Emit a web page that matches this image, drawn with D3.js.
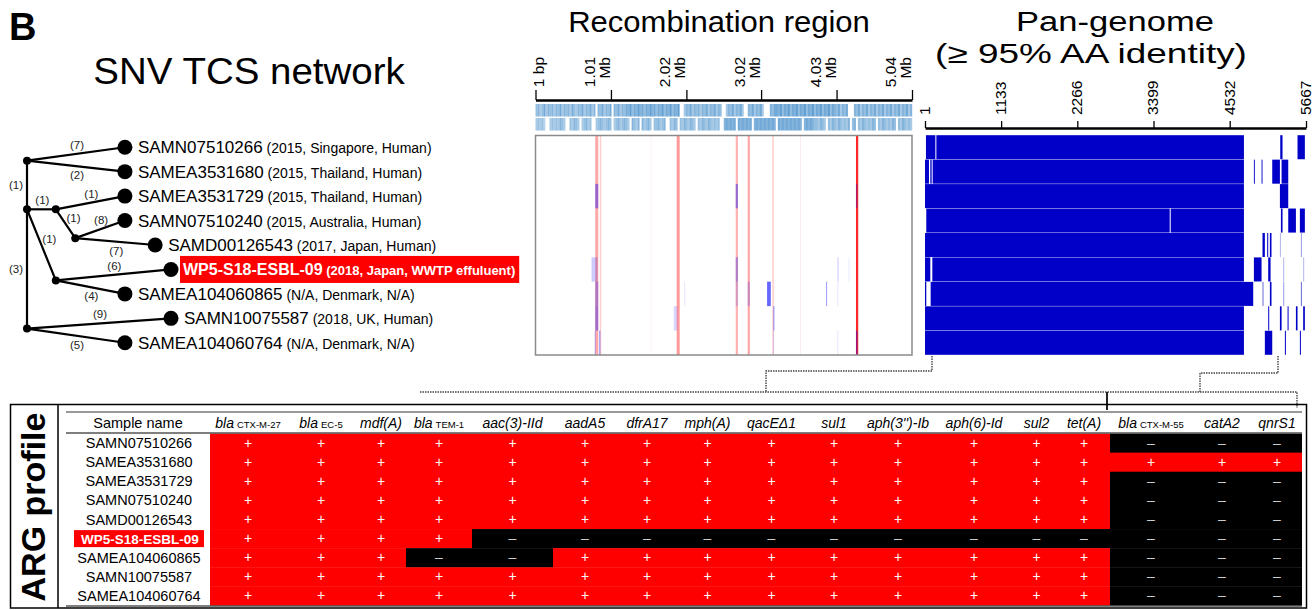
<!DOCTYPE html>
<html>
<head>
<meta charset="utf-8">
<script src="https://cdn.jsdelivr.net/npm/d3@7"></script>
<style>
body { margin: 0; background: #fff; }
text { font-family: "Liberation Sans", Arial, sans-serif; }
</style>
</head>
<body>
<svg id="fig" width="1314" height="610"></svg>
<script>
// ---- data ----
var samples = ["SAMN07510266", "SAMEA3531680", "SAMEA3531729", "SAMN07510240", "SAMD00126543",
               "WP5-S18-ESBL-09", "SAMEA104060865", "SAMN10075587", "SAMEA104060764"];
var sampleMeta = ["(2015, Singapore, Human)", "(2015, Thailand, Human)", "(2015, Thailand, Human)",
                  "(2015, Australia, Human)", "(2017, Japan, Human)", "(2018, Japan, WWTP effuluent)",
                  "(N/A, Denmark, N/A)", "(2018, UK, Human)", "(N/A, Denmark, N/A)"];
var highlight = "WP5-S18-ESBL-09";

// TCS network, x in tree units (0-10), y in row units
var treeNodes = [
  {id: "n1", x: 0, y: 0.55}, {id: "n2", x: 0, y: 2.54}, {id: "n3", x: 0, y: 7.42},
  {id: "nB", x: 2.0, y: 2.54}, {id: "nC", x: 3.35, y: 3.72}, {id: "nD", x: 2.0, y: 5.45},
  {id: "t0", x: 6.8, y: 0, tip: 0}, {id: "t1", x: 6.8, y: 1, tip: 1}, {id: "t2", x: 6.8, y: 2, tip: 2},
  {id: "t3", x: 6.8, y: 3, tip: 3}, {id: "t4", x: 8.9, y: 4, tip: 4}, {id: "t5", x: 10, y: 5, tip: 5},
  {id: "t6", x: 6.8, y: 6, tip: 6}, {id: "t7", x: 10, y: 7, tip: 7}, {id: "t8", x: 6.8, y: 8, tip: 8}
];
var treeEdges = [
  ["n1", "n2", "(1)", "left"], ["n2", "n3", "(3)", "left"],
  ["n1", "t0", "(7)", "above"], ["n1", "t1", "(2)", "below"],
  ["n2", "nB", "(1)", "above"], ["nB", "t2", "(1)", "above"], ["nB", "nC", "(1)", "right"],
  ["nC", "t3", "(8)", "above"], ["nC", "t4", "(7)", "below"],
  ["n2", "nD", "(1)", "right"], ["nD", "t5", "(6)", "above"], ["nD", "t6", "(4)", "below"],
  ["n3", "t7", "(9)", "above"], ["n3", "t8", "(5)", "below"]
];

// recombination region (Mb)
var recTicks = [0, 1.01, 2.02, 3.02, 4.03, 5.04];
var recTickLabels = [["1 bp"], ["1.01", "Mb"], ["2.02", "Mb"], ["3.02", "Mb"], ["4.03", "Mb"], ["5.04", "Mb"]];
// SNV density strips, one digit per bin along the genome (0 = none, 9 = dense)
var densityTop = "5645746564" + "6574656475" + "4657465746" + "0657465706" + "5746576857" +
                 "6867576867" + "5768576857" + "6800465746" + "5646574657" + "4650046574" +
                 "6574006574" + "6574000657" + "7685768576" + "8576857685" + "7685768576" +
                 "5746570006" + "5746574657" + "4657465746" + "57465746";
var densityBot = "4545300454" + "5465400546" + "5404564500" + "4565456504" + "5645654065" +
                 "4606456405" + "5645600546" + "5054654654" + "0546546545" + "4500676767" +
                 "0767676706" + "7676767676" + "0767676767" + "6760676765" + "5465405465" +
                 "4654546056" + "0546545465" + "0546545465" + "05465454";
// recombination shared by all rows: [start, end, strength]
var recRed = [[0.80, 0.84, 0.35], [0.86, 0.88, 0.2], [1.54, 1.55, 0.05], [1.89, 1.93, 0.4],
              [2.68, 2.71, 0.3], [2.84, 2.87, 0.35], [3.17, 3.19, 0.2], [3.54, 3.55, 0.08], [4.29, 4.32, 0.85]];
// per-row recombination: [row, start, end, strength]
var recBlue = [
  [2, 0.80, 0.84, 0.4], [2, 2.68, 2.71, 0.4], [2, 4.29, 4.31, 0.3],
  [5, 0.75, 0.83, 0.2], [5, 2.68, 2.71, 0.3], [5, 4.04, 4.06, 0.15], [5, 4.19, 4.20, 0.08],
  [6, 0.80, 0.84, 0.3], [6, 1.99, 2.00, 0.1], [6, 2.68, 2.71, 0.15], [6, 2.84, 2.87, 0.2],
  [6, 3.10, 3.15, 0.6], [6, 3.89, 3.90, 0.4], [6, 4.04, 4.05, 0.1],
  [7, 0.80, 0.84, 0.35], [7, 1.85, 1.90, 0.15], [7, 3.18, 3.20, 0.3],
  [8, 0.79, 0.81, 0.2], [8, 0.85, 0.87, 0.3], [8, 3.18, 3.19, 0.15], [8, 4.04, 4.05, 0.1], [8, 4.29, 4.31, 0.4]
];

// pan-genome gene presence: [row, first gene, last gene, strength]
var panTicks = [1, 1133, 2266, 3399, 4532, 5667];
var panBlocks = [
  [0, 15, 155, 1], [0, 170, 4744, 1], [0, 5284, 5318, 1], [0, 5541, 5650, 1],
  [1, 1, 60, 1], [1, 80, 100, 1], [1, 115, 4744, 1], [1, 4892, 4902, 0.9], [1, 5006, 5016, 0.9],
  [1, 5165, 5279, 1], [1, 5304, 5403, 1],
  [2, 1, 4744, 1], [2, 5279, 5403, 1],
  [3, 20, 3640, 1], [3, 3655, 4744, 1], [3, 5294, 5318, 1], [3, 5403, 5517, 1], [3, 5576, 5650, 1],
  [4, 1, 4744, 1], [4, 5020, 5055, 1], [4, 5090, 5105, 1], [4, 5130, 5154, 1],
  [4, 5279, 5284, 0.3], [4, 5591, 5596, 0.4],
  [5, 1, 80, 1], [5, 110, 4744, 1], [5, 4892, 5006, 1], [5, 5105, 5140, 1],
  [5, 5328, 5333, 0.3], [5, 5625, 5630, 0.3],
  [6, 1, 20, 1], [6, 85, 4882, 1], [6, 5020, 5025, 0.6], [6, 5130, 5154, 1],
  [6, 5328, 5333, 0.4], [6, 5591, 5596, 0.6],
  [7, 1, 4744, 1], [7, 5105, 5110, 1], [7, 5279, 5304, 1], [7, 5393, 5403, 1], [7, 5517, 5541, 1], [7, 5625, 5650, 1],
  [8, 1, 4744, 1], [8, 5055, 5165, 1], [8, 5353, 5363, 1], [8, 5576, 5586, 1]
];

// ARG profile
var genes = ["bla|CTX-M-27", "bla|EC-5", "mdf(A)", "bla|TEM-1", "aac(3)-IId", "aadA5", "dfrA17", "mph(A)",
             "qacEΔ1", "sul1", "aph(3'')-Ib", "aph(6)-Id", "sul2", "tet(A)", "bla|CTX-M-55", "catA2", "qnrS1"];
var argProfile = [
  "11111111111111000",
  "11111111111111111",
  "11111111111111000",
  "11111111111111000",
  "11111111111111000",
  "11110000000000000",
  "11100111111111000",
  "11111111111111000",
  "11111111111111000"
];

// ---- layout ----
var colEdges = [66, 210, 286, 356, 406, 472, 553, 617, 677, 738, 805, 863, 933, 1015, 1058, 1110, 1192, 1252, 1302];

var svg = d3.select("#fig");

var rowY = d3.scaleLinear().domain([-0.5, samples.length - 0.5]).range([135, 355]);
var rowBand = d3.scaleBand().domain(d3.range(samples.length)).range([135, 355]);
var treeX = d3.scaleLinear().domain([0, 10]).range([27, 171]);

// text squeezed/stretched horizontally (the figure's titles are wider than plain Arial)
function wideText(parent, x, y, k, size, txt, anchor) {
  return parent.append("g").attr("transform", "translate(" + x + "," + y + ") scale(" + k + ",1)")
    .append("text").attr("font-size", size).attr("text-anchor", anchor || "middle").text(txt);
}

// ---- titles ----
svg.append("text").attr("x", 9).attr("y", 40).attr("font-size", 38).attr("font-weight", "bold").text("B");
wideText(svg, 249, 84, 1.04, 37, "SNV TCS network");
wideText(svg, 719, 32, 1.07, 29, "Recombination region");
wideText(svg, 1115, 31, 1.235, 28, "Pan-genome");
wideText(svg, 1091, 62.5, 1.32, 28, "(\u2265 95% AA identity)");

// ---- tree ----
var nodeById = {};
treeNodes.forEach(function(n) { nodeById[n.id] = n; });
var gTree = svg.append("g");
gTree.selectAll("line.edge").data(treeEdges).enter().append("line")
  .attr("x1", function(e) { return treeX(nodeById[e[0]].x); })
  .attr("y1", function(e) { return rowY(nodeById[e[0]].y); })
  .attr("x2", function(e) { return treeX(nodeById[e[1]].x); })
  .attr("y2", function(e) { return rowY(nodeById[e[1]].y); })
  .attr("stroke", "#000").attr("stroke-width", 2.2);

var labelOff = {above: [1, -9], below: [1, 9], right: [8, -6], left: [-11, 0]};
gTree.selectAll("text.edge").data(treeEdges).enter().append("text")
  .attr("x", function(e) { return (treeX(nodeById[e[0]].x) + treeX(nodeById[e[1]].x)) / 2 + labelOff[e[3]][0]; })
  .attr("y", function(e) { return (rowY(nodeById[e[0]].y) + rowY(nodeById[e[1]].y)) / 2 + labelOff[e[3]][1] + 4; })
  .attr("text-anchor", "middle").attr("font-size", 11.5).attr("fill", "#222")
  .text(function(e) { return e[2]; });

gTree.selectAll("circle").data(treeNodes).enter().append("circle")
  .attr("cx", function(n) { return treeX(n.x); })
  .attr("cy", function(n) { return rowY(n.y); })
  .attr("r", function(n) { return n.tip === undefined ? 4 : 7.5; })
  .attr("fill", "#000");

treeNodes.filter(function(n) { return n.tip !== undefined; }).forEach(function(n) {
  var i = n.tip, hl = samples[i] === highlight;
  var x0 = treeX(n.x) + (hl ? 12 : 13), y0 = rowY(n.y);
  var bg = gTree.append("rect");
  var t = gTree.append("text").attr("x", x0).attr("y", y0 + 6).attr("fill", hl ? "#fff" : "#000")
    .attr("font-weight", hl ? "bold" : null);
  t.append("tspan").attr("font-size", hl ? 16 : 17).text(samples[i]);
  t.append("tspan").attr("font-size", hl ? 13 : 14).text(" " + sampleMeta[i]);
  if (hl) {
    var bb = t.node().getBBox();
    bg.attr("x", bb.x - 3).attr("y", y0 - 13.5).attr("width", bb.width + 7).attr("height", 27).attr("fill", "#f00");
  } else bg.remove();
});

// ---- recombination panel ----
var recX = d3.scaleLinear().domain([0, 5.04]).range([535.5, 912]);
var gRec = svg.append("g");
gRec.append("g").attr("transform", "translate(0,100)")
  .call(d3.axisTop(recX).tickValues(recTicks).tickSize(10).tickSizeOuter(0).tickFormat(""))
  .call(function(g) {
    g.select(".domain").attr("stroke-width", 2.5);
    g.selectAll(".tick line").attr("stroke-width", 1.3);
  });
recTicks.forEach(function(v, i) {
  var lab = recTickLabels[i];
  var t = gRec.append("text").attr("transform", "translate(" + recX(v) + ",57) rotate(-90)")
    .attr("text-anchor", "end").attr("font-size", 15.5);
  if (lab.length === 1) {
    t.append("tspan").attr("x", 0).attr("y", 8).text(lab[0]);
  } else {
    t.append("tspan").attr("x", 0).attr("y", -16).text(lab[0]);
    t.append("tspan").attr("x", 0).attr("y", -1).text(lab[1]);
  }
});

var stripColor = d3.scaleLinear().domain([1, 9]).range(["#dbeaf6", "#4f93cc"]);
[densityTop, densityBot].forEach(function(s, k) {
  var bins = s.split("").map(Number);
  var bx = d3.scaleLinear().domain([0, bins.length]).range([recX(0), recX(5.04)]);
  gRec.selectAll(null).data(bins).enter().append("rect")
    .attr("x", function(d, j) { return bx(j); })
    .attr("width", function(d, j) { return bx(j + 1) - bx(j) + (d === 0 ? 0 : 0.2); })
    .attr("y", k === 0 ? 104 : 118).attr("height", 12.5)
    .attr("fill", function(d) { return d === 0 ? "#fff" : stripColor(d); });
});

gRec.selectAll("rect.red").data(recRed).enter().append("rect")
  .attr("x", function(d) { return recX(d[0]); })
  .attr("width", function(d) { return Math.max(1, recX(d[1]) - recX(d[0])); })
  .attr("y", 135).attr("height", 220)
  .attr("fill", "#ff0000").attr("fill-opacity", function(d) { return d[2]; });
gRec.selectAll("rect.blue").data(recBlue).enter().append("rect")
  .attr("x", function(d) { return recX(d[1]); })
  .attr("width", function(d) { return Math.max(1, recX(d[2]) - recX(d[1])); })
  .attr("y", function(d) { return rowBand(d[0]); }).attr("height", rowBand.bandwidth())
  .attr("fill", "#0000ff").attr("fill-opacity", function(d) { return d[3]; });
gRec.append("rect").attr("x", 535.5).attr("y", 135.5).attr("width", 376.5).attr("height", 219.5)
  .attr("fill", "none").attr("stroke", "#8a8a8a").attr("stroke-width", 1.5);

// ---- pan-genome panel ----
var panX = d3.scaleLinear().domain([1, 5667]).range([925, 1306]);
var gPan = svg.append("g");
gPan.append("g").attr("transform", "translate(0,128)")
  .call(d3.axisTop(panX).tickValues(panTicks).tickSize(7).tickSizeOuter(0).tickFormat(""))
  .call(function(g) {
    g.select(".domain").attr("stroke-width", 2.5);
    g.selectAll(".tick line").attr("stroke-width", 1.3);
  });
panTicks.forEach(function(v) {
  gPan.append("text").attr("transform", "translate(" + (panX(v) + 5) + ",115) rotate(-90)")
    .attr("font-size", 15.5).text(v);
});
gPan.selectAll("rect.blk").data(panBlocks).enter().append("rect")
  .attr("x", function(d) { return panX(d[1]); })
  .attr("width", function(d) { return Math.max(1, panX(d[2]) - panX(d[1])); })
  .attr("y", function(d) { return rowBand(d[0]) + 0.2; }).attr("height", rowBand.bandwidth() - 0.4)
  .attr("fill", "#0000c8").attr("fill-opacity", function(d) { return d[3]; });

// ---- dotted connectors ----
var dots = svg.append("g").attr("fill", "none").attr("stroke", "#444").attr("stroke-width", 1.4)
  .attr("stroke-dasharray", "1.5,1");
dots.append("path").attr("d", "M932,356 V371 H766 V392");
dots.append("path").attr("d", "M1278,356 V373 H1200 V392");
dots.append("path").attr("d", "M420,392 H1297 V408");
svg.append("line").attr("x1", 1107).attr("x2", 1107).attr("y1", 392).attr("y2", 410)
  .attr("stroke", "#222").attr("stroke-width", 2);

// ---- ARG profile table ----
var gT = svg.append("g");
gT.append("rect").attr("x", 10.5).attr("y", 404.5).attr("width", 1296).attr("height", 203.5)
  .attr("fill", "none").attr("stroke", "#000").attr("stroke-width", 1.5);
gT.append("line").attr("x1", 58).attr("x2", 58).attr("y1", 404).attr("y2", 608).attr("stroke", "#000").attr("stroke-width", 1.5);
gT.append("text").attr("transform", "translate(45,507) rotate(-90)").attr("text-anchor", "middle")
  .attr("font-size", 34).attr("font-weight", "bold").text("ARG profile");

var tRow = d3.scaleBand().domain(d3.range(samples.length)).range([433.5, 605.5]);
var colCenter = function(j) { return (colEdges[j] + colEdges[j + 1]) / 2; };

argProfile.forEach(function(r, i) {
  r.split("").forEach(function(v, j) {
    gT.append("rect").attr("x", colEdges[j + 1]).attr("width", colEdges[j + 2] - colEdges[j + 1])
      .attr("y", tRow(i)).attr("height", tRow.bandwidth() + 0.4)
      .attr("fill", v === "1" ? "#ff0000" : "#000");
    gT.append("text").attr("x", colCenter(j + 1)).attr("y", tRow(i) + tRow.bandwidth() / 2 + 4.5)
      .attr("text-anchor", "middle").attr("font-size", 14)
      .attr("fill", v === "1" ? "#fff" : "#ccc").text(v === "1" ? "+" : "\u2013");
  });
});

samples.forEach(function(s, i) {
  var cy = tRow(i) + tRow.bandwidth() / 2;
  if (s === highlight) {
    gT.append("rect").attr("x", 74).attr("y", cy - 8.5).attr("width", 130).attr("height", 17).attr("fill", "#f00");
    gT.append("text").attr("x", 140).attr("y", cy + 5).attr("text-anchor", "middle").attr("font-size", 13.5)
      .attr("font-weight", "bold").attr("fill", "#fff").text(s);
  } else {
    gT.append("text").attr("x", 139).attr("y", cy + 5).attr("text-anchor", "middle").attr("font-size", 14.5).text(s);
  }
});

// header
gT.append("text").attr("x", colCenter(0)).attr("y", 428).attr("text-anchor", "middle").attr("font-size", 14.5).text("Sample name");
genes.forEach(function(g, j) {
  var parts = g.split("|");
  var t = gT.append("text").attr("x", colCenter(j + 1)).attr("y", 428).attr("text-anchor", "middle").attr("font-size", 14);
  t.append("tspan").attr("font-style", "italic").text(parts[0]);
  if (parts.length > 1) t.append("tspan").attr("font-size", 9.5).attr("dx", 3).text(parts[1]);
});
gT.append("line").attr("x1", 66).attr("x2", 1302).attr("y1", 412).attr("y2", 412).attr("stroke", "#777").attr("stroke-width", 1.5);
gT.append("line").attr("x1", 66).attr("x2", 1302).attr("y1", 433).attr("y2", 433).attr("stroke", "#555").attr("stroke-width", 1.5);
gT.append("line").attr("x1", 66).attr("x2", 1302).attr("y1", 606).attr("y2", 606).attr("stroke", "#555").attr("stroke-width", 1.5);
</script>
</body>
</html>
